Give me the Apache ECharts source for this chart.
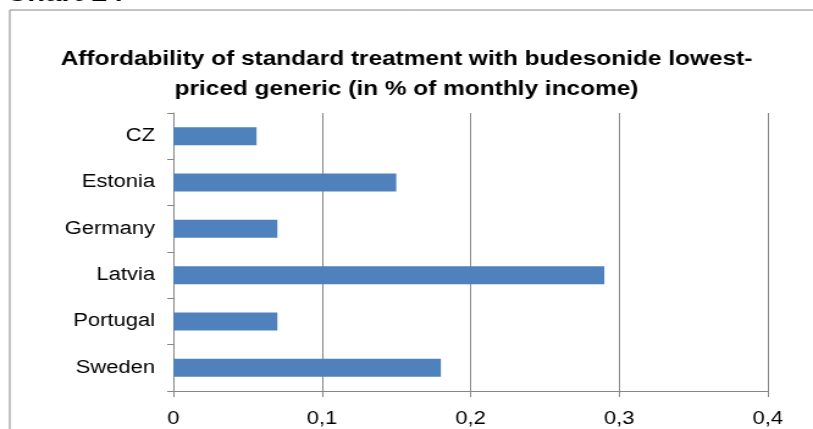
<!DOCTYPE html>
<html>
<head>
<meta charset="utf-8">
<script src="https://cdn.jsdelivr.net/npm/echarts@6/dist/echarts.min.js"></script>
<style>
html,body{margin:0;padding:0;background:#fff;overflow:hidden;width:813px;height:429px;}
#chart{width:666px;height:429px;transform-origin:0 0;transform:scaleX(1.2207);}
</style>
</head>
<body>
<div id="chart"></div>
<script>
const categories = ['CZ', 'Estonia', 'Germany', 'Latvia', 'Portugal', 'Sweden'];
const values = [0.056, 0.150, 0.070, 0.290, 0.070, 0.180];
const xTickLabels = ['0', '0,1', '0,2', '0,3', '0,4'];
const titleText = 'Affordability of standard treatment with budesonide lowest-\npriced generic (in % of monthly income)';
const headerText = 'Chart 14';

const FONT = '"Liberation Sans", Arial, sans-serif';
const chart = echarts.init(document.getElementById('chart'));
chart.setOption({
  animation: false,
  backgroundColor: '#fff',
  title: {
    text: titleText,
    left: 'center',
    top: 39,
    textStyle: {fontFamily: FONT, fontSize: 20, fontWeight: 'bold', color: '#000', lineHeight: 30}
  },
  graphic: [
    {type: 'rect', shape: {x: 8, y: 10, width: 2000, height: 1000}, style: {fill: 'none', stroke: '#878787', lineWidth: 1}, silent: true},
    {type: 'text', x: 5, y: 6, style: {text: headerText, font: 'bold 24px ' + FONT, fill: '#000', verticalAlign: 'bottom', align: 'left'}, silent: true}
  ],
  grid: {left: 142, right: 37, top: 113, bottom: 38, containLabel: false},
  xAxis: {
    type: 'value',
    min: 0, max: 0.4, interval: 0.1,
    axisLine: {show: true, lineStyle: {color: '#868686', width: 1}},
    axisTick: {show: true, length: 6, lineStyle: {color: '#868686'}},
    splitLine: {show: true, lineStyle: {color: '#868686', width: 1}},
    axisLabel: {
      margin: 19, fontFamily: FONT, fontSize: 18, color: '#000',
      formatter: function (v) { return xTickLabels[Math.round(v / 0.1)]; }
    }
  },
  yAxis: {
    type: 'category',
    data: categories,
    inverse: true,
    axisLine: {show: true, lineStyle: {color: '#868686', width: 1}},
    axisTick: {show: true, length: 5, alignWithLabel: false, lineStyle: {color: '#868686'}},
    splitLine: {show: false},
    axisLabel: {margin: 15, fontFamily: FONT, fontSize: 18, color: '#000'}
  },
  series: [{
    type: 'bar',
    data: values,
    barWidth: 18,
    itemStyle: {color: '#4F81BD'}
  }]
});
</script>
</body>
</html>
